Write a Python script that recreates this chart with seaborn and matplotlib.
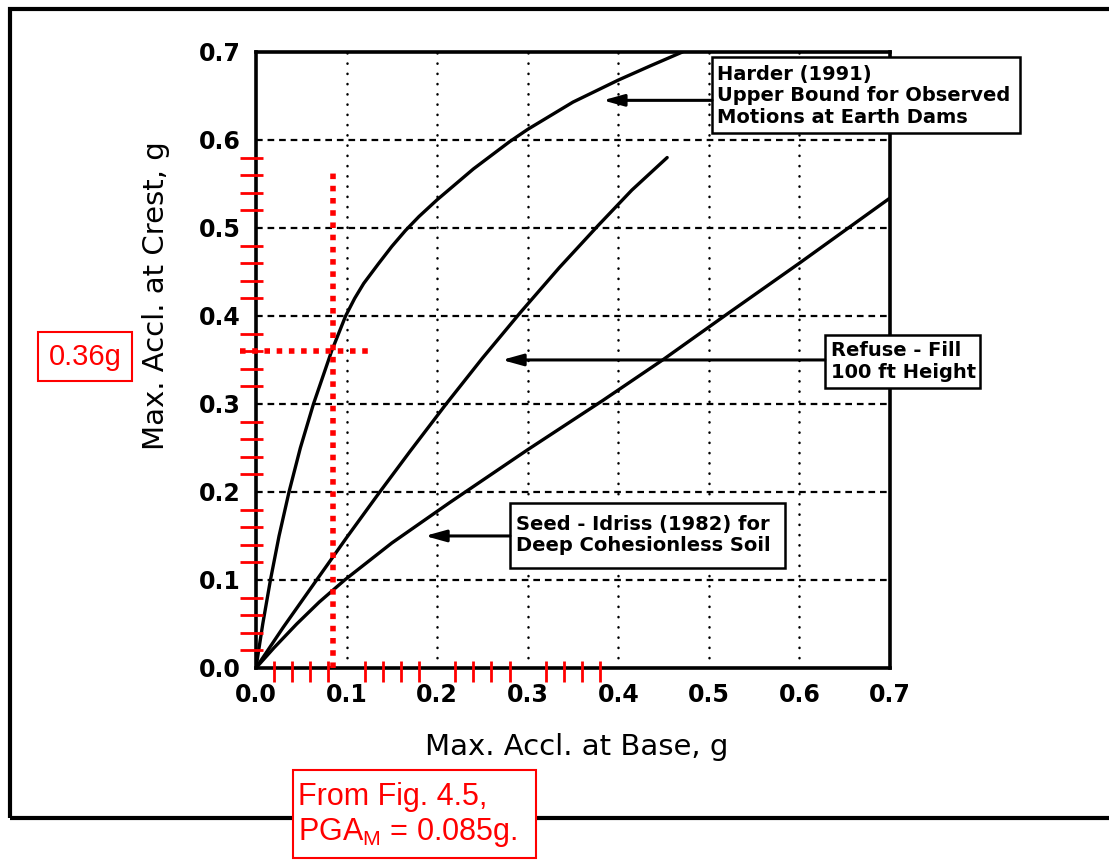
import numpy as np
import pandas as pd
import matplotlib.pyplot as plt
import seaborn as sns
from matplotlib.patches import Rectangle

# curves (base accel, crest accel), in g
harder_x = [0, 0.0075, 0.016, 0.0255, 0.0365, 0.049, 0.0635, 0.0835, 0.099, 0.109, 0.119,
            0.135, 0.15, 0.165, 0.18, 0.2, 0.24, 0.28, 0.3, 0.35, 0.4, 0.435, 0.471]
harder_y = [0, 0.05, 0.1, 0.15, 0.2, 0.25, 0.3, 0.36, 0.4, 0.42, 0.437,
            0.459, 0.479, 0.497, 0.513, 0.532, 0.567, 0.598, 0.612, 0.643, 0.668, 0.684, 0.7]
refuse_x = [0, 0.03, 0.067, 0.1, 0.136, 0.17, 0.21, 0.25, 0.292, 0.335, 0.378, 0.415, 0.454]
refuse_y = [0, 0.046, 0.1, 0.148, 0.199, 0.246, 0.3, 0.352, 0.404, 0.455, 0.503, 0.543, 0.58]
seed_x = [0, 0.02, 0.045, 0.07, 0.098, 0.15, 0.214, 0.3, 0.383, 0.449, 0.52, 0.6, 0.7]
seed_y = [0, 0.023, 0.05, 0.075, 0.1, 0.142, 0.188, 0.248, 0.304, 0.35, 0.402, 0.46, 0.534]

tick_vals = [0.0, 0.1, 0.2, 0.3, 0.4, 0.5, 0.6, 0.7]
tick_labels = ['0.0', '0.1', '0.2', '0.3', '0.4', '0.5', '0.6', '0.7']
grid_vals = [0.1, 0.2, 0.3, 0.4, 0.5, 0.6]

# red hand markup
red_x_ticks = [0.02, 0.04, 0.06, 0.08, 0.12, 0.14, 0.16, 0.18,
               0.22, 0.24, 0.26, 0.28, 0.32, 0.34, 0.36, 0.38]
red_y_ticks = [0.02, 0.04, 0.06, 0.08, 0.12, 0.14, 0.16, 0.18,
               0.22, 0.24, 0.26, 0.28, 0.32, 0.34, 0.36, 0.38,
               0.42, 0.44, 0.46, 0.48, 0.52, 0.54, 0.56, 0.58]
pga = 0.085
crest = 0.36

df = pd.concat([
    pd.DataFrame({'base': harder_x, 'crest': harder_y, 'curve': 'harder'}),
    pd.DataFrame({'base': refuse_x, 'crest': refuse_y, 'curve': 'refuse'}),
    pd.DataFrame({'base': seed_x, 'crest': seed_y, 'curve': 'seed'}),
])

sns.set_style('white')
plt.rcParams['font.family'] = ['DejaVu Sans']
plt.rcParams['text.color'] = 'black'
plt.rcParams['axes.labelcolor'] = 'black'
plt.rcParams['xtick.color'] = 'black'
plt.rcParams['ytick.color'] = 'black'
plt.rcParams['mathtext.fontset'] = 'custom'
plt.rcParams['mathtext.rm'] = 'Liberation Sans'

fig = plt.figure(figsize=(11.09, 8.6), dpi=100)
ax = fig.add_axes([0.2308, 0.2233, 0.5717, 0.7163])

sns.lineplot(data=df, x='base', y='crest', units='curve', estimator=None,
             sort=False, color='black', lw=2.4, ax=ax, zorder=3)

for v in grid_vals:
    ax.axvline(v, color='black', lw=1.8, linestyle=(0, (0.1, 4)),
               dash_capstyle='round', zorder=1)
    ax.axhline(v, color='black', lw=1.6, linestyle=(0, (3, 2.2)), zorder=1)

ax.set_xlim(0, 0.7)
ax.set_ylim(0, 0.7)
ax.set_xticks(tick_vals, tick_labels)
ax.set_yticks(tick_vals, tick_labels)
ax.tick_params(length=0, labelsize=17, pad=11, colors='black')
for lab in ax.get_xticklabels() + ax.get_yticklabels():
    lab.set_fontweight('bold')
for s in ax.spines.values():
    s.set_linewidth(2.6)
    s.set_color('black')

ax.set_xlabel('Max. Accl. at Base, g', fontsize=21, color='black')
ax.set_ylabel('Max. Accl. at Crest, g', fontsize=21, color='black')
ax.xaxis.set_label_coords(0.506, -0.105)
ax.yaxis.set_label_coords(-0.135, 0.605)

# label boxes with arrows
boxes = [
    ((0.5035, 0.608), 0.34, 0.086, 0.509, 0.65, 'Harder (1991)\nUpper Bound for Observed\nMotions at Earth Dams', 0.645, 0.383),
    ((0.628, 0.318), 0.171, 0.060, 0.635, 0.348, 'Refuse - Fill\n100 ft Height', 0.35, 0.2716),
    ((0.2804, 0.1136), 0.3036, 0.0739, 0.287, 0.151, 'Seed - Idriss (1982) for\nDeep Cohesionless Soil', 0.15, 0.1866),
]
for (x0, y0), w, h, tx, ty, txt, ay, tip in boxes:
    ax.add_patch(Rectangle((x0, y0), w, h, fc='white', ec='black', lw=1.8,
                           clip_on=False, zorder=5))
    ax.text(tx, ty, txt, fontsize=14, fontweight='bold', va='center', ha='left',
            linespacing=1.18, zorder=6, clip_on=False, color='black')
    ax.annotate('', xy=(tip, ay), xytext=(x0, ay), zorder=6,
                arrowprops=dict(arrowstyle='-|>,head_length=0.9,head_width=0.25',
                                color='black', lw=2.2, shrinkA=0, shrinkB=0,
                                mutation_scale=14))

# red markup
ax.vlines(red_x_ticks, -0.016, 0.008, colors='red', lw=2, clip_on=False, zorder=7)
ax.hlines(red_y_ticks, -0.018, 0.008, colors='red', lw=2, clip_on=False, zorder=7)
ax.plot([pga, pga], [0, 0.565], color='red', lw=4, linestyle=(0, (1, 1.2)),
        clip_on=False, zorder=7)
ax.plot([-0.018, 0.124], [crest, crest], color='red', lw=4,
        linestyle=(0, (1, 1.2)), clip_on=False, zorder=7)

# outer frame of the scanned page
fig.patches.append(Rectangle((0.009, 0.0488), 1.2, 0.9407, transform=fig.transFigure,
                             fill=False, ec='black', lw=3, zorder=0))

fig.patches.append(Rectangle((0.0343, 0.557), 0.0848, 0.057, transform=fig.transFigure,
                             fc='white', ec='red', lw=1.5, zorder=10))
fig.text(0.0766, 0.5849, '0.36g', color='red', fontsize=21, family='Liberation Sans',
         ha='center', va='center', zorder=11)

fig.patches.append(Rectangle((0.2642, 0.0023), 0.2191, 0.1023, transform=fig.transFigure,
                             fc='white', ec='red', lw=1.5, zorder=10))
fig.text(0.2687, 0.064, 'From Fig. 4.5,', color='red', fontsize=22,
         family='Liberation Sans', ha='left', va='baseline', zorder=11)
fig.text(0.2687, 0.0233, r'PGA$_{\mathrm{M}}$ = 0.085g.', color='red', fontsize=22,
         family='Liberation Sans', ha='left', va='baseline', zorder=11)

fig.savefig('out.png', dpi=100)
